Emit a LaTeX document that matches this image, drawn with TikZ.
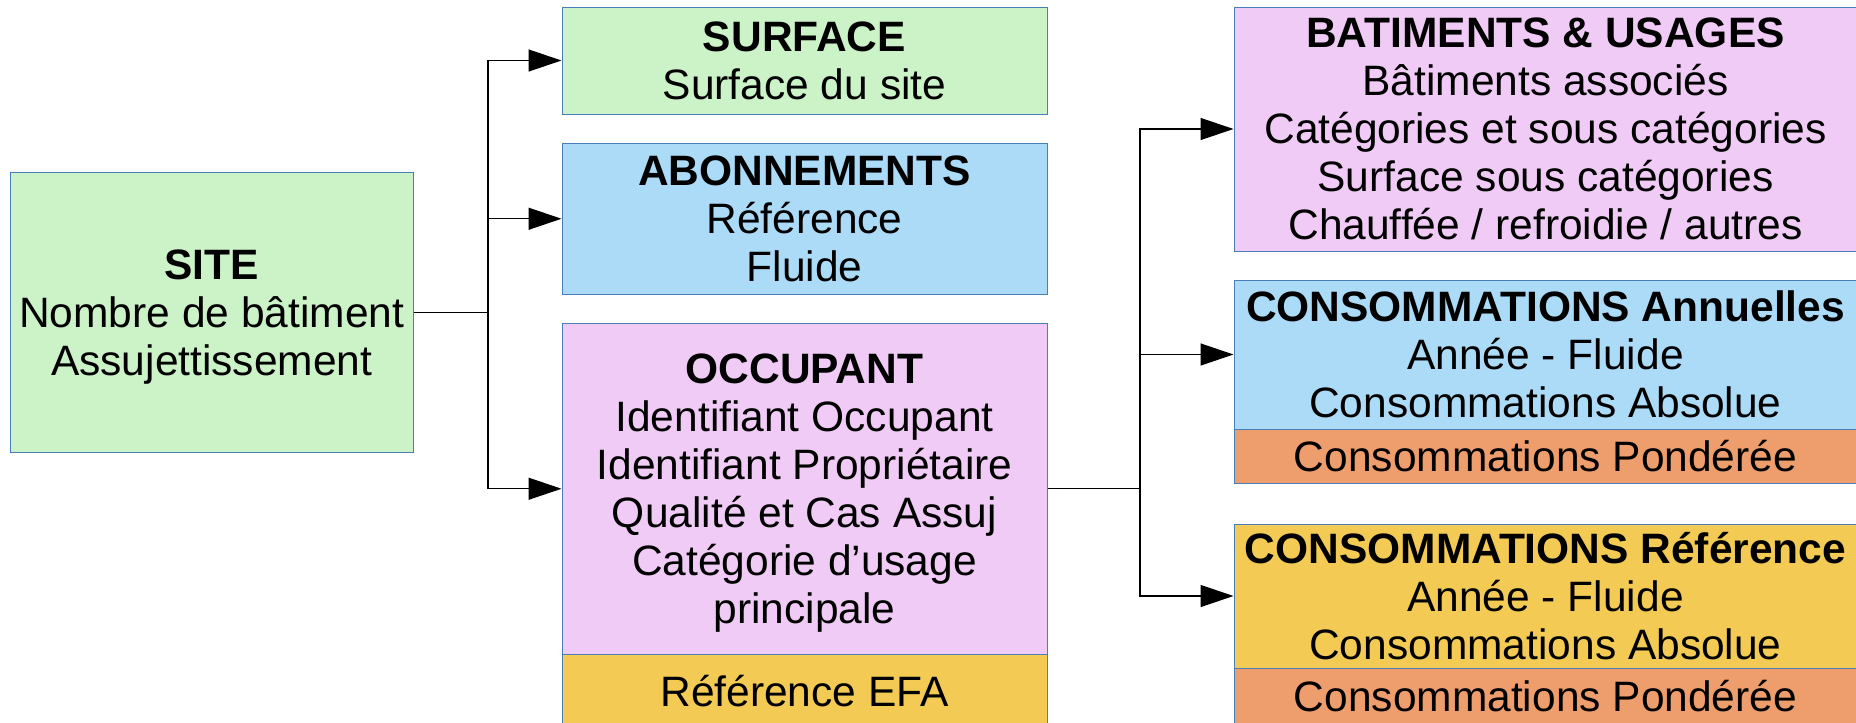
\documentclass[tikz,border=0pt]{standalone}
\usepackage{fontspec}
\setmainfont{Liberation Sans}
\usetikzlibrary{arrows.meta}
\definecolor{vert}{HTML}{CCF2C8}
\definecolor{bleu}{HTML}{ABDBF7}
\definecolor{rose}{HTML}{F0CBF5}
\definecolor{jaune}{HTML}{F3CB54}
\definecolor{saumon}{HTML}{EE9D6D}
\definecolor{bord}{HTML}{4A7EBB}
\tikzset{boite/.style={draw=bord,line width=1pt,inner sep=0pt,align=center,font=\fontsize{42.5}{48}\selectfont},
        fleche/.style={-{Triangle[length=33pt,width=22pt]},line width=1.3pt}}

\begin{document}
\begin{tikzpicture}[x=1pt,y=-1pt]
        \useasboundingbox (0,0) rectangle (1856,723);
        \node[boite,fill=vert,minimum width=402.5pt,minimum height=279.5pt,text depth=0pt] (site) at (211.75,312.25) {\textbf{SITE}\\Nombre de bâtiment\\Assujettissement};
        \node[boite,fill=vert,minimum width=485pt,minimum height=107pt] (surface) at (804.5,60.5) {\textbf{SURFACE}\\Surface du site};
        \node[boite,fill=bleu,minimum width=485pt,minimum height=150.5pt] (abonnements) at (804.5,218.75) {\textbf{ABONNEMENTS}\\Référence\\Fluide};
        \node[boite,fill=rose,minimum width=485pt,minimum height=330.5pt,text depth=0pt] (occupant) at (804.5,488.75) {\textbf{OCCUPANT}\\Identifiant Occupant\\Identifiant Propriétaire\\Qualité et Cas Assuj\\Catégorie d’usage\\principale};
        \node[boite,fill=jaune,minimum width=485pt,minimum height=74pt] (efa) at (804.5,691) {Référence EFA};
        \node[boite,fill=rose,minimum width=623pt,minimum height=244pt] (batiments) at (1545.5,129) {\textbf{BATIMENTS \& USAGES}\\Bâtiments associés\\Catégories et sous catégories\\Surface sous catégories\\Chauffée / refroidie / autres};
        \node[boite,fill=bleu,minimum width=623pt,minimum height=149pt] (conso) at (1545.5,354.5) {\textbf{CONSOMMATIONS Annuelles}\\Année - Fluide\\Consommations Absolue};
        \node[boite,fill=saumon,minimum width=623pt,minimum height=54.5pt] (consopond) at (1545.5,456.25) {Consommations Pondérée};
        \node[boite,fill=jaune,minimum width=623pt,minimum height=144pt] (consoref) at (1545.5,596) {\textbf{CONSOMMATIONS Référence}\\Année - Fluide\\Consommations Absolue};
        \node[boite,fill=saumon,minimum width=623pt,minimum height=57pt] (consorefpond) at (1545.5,696.5) {Consommations Pondérée};
        \coordinate (j1) at (488,312.25);
        \coordinate (j2) at (1140,488.75);
        \draw[line width=1.3pt] (site.east) -- (j1);
        \draw[fleche] (j1) |- (surface.west);
        \draw[fleche] (j1) |- (abonnements.west);
        \draw[fleche] (j1) |- (occupant.west);
        \draw[line width=1.3pt] (occupant.east) -- (j2);
        \draw[fleche] (j2) |- (batiments.west);
        \draw[fleche] (j2) |- (conso.west);
        \draw[fleche] (j2) |- (consoref.west);
\end{tikzpicture}
\end{document}
